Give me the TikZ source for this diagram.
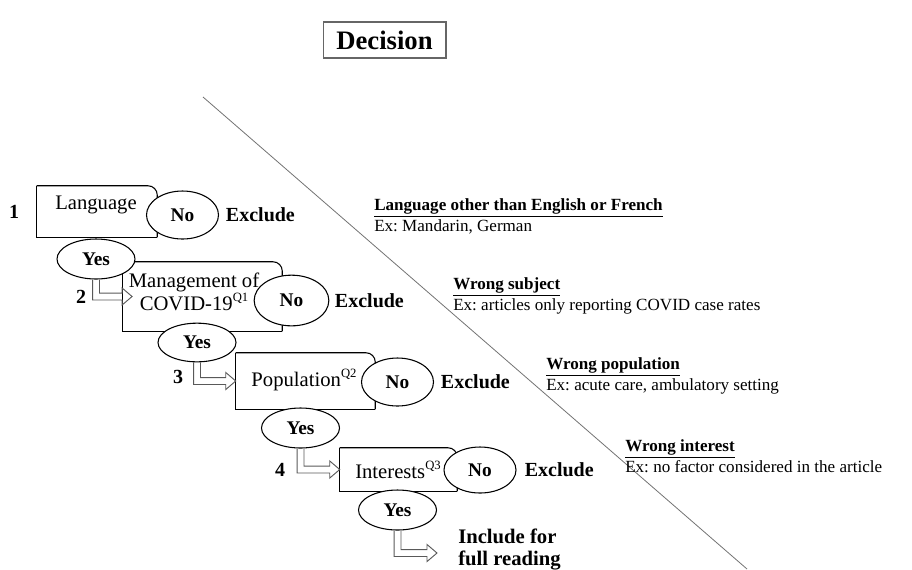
\documentclass[tikz,border=0pt]{standalone}
\usepackage{fontspec}
\setmainfont{Liberation Serif}
\usetikzlibrary{positioning,shapes.geometric,calc}
\frenchspacing

\newcommand{\qmark}[1]{\raisebox{0.42em}{\fontsize{9.5}{10}\selectfont #1}}
\newcommand{\qframe}[1]{%
  \draw[qline, rounded corners=7pt] (#1.south east) -- (#1.north east) -- (#1.north west);
  \draw[qline] (#1.north west) -- (#1.south west) -- (#1.south east);}
\newcommand{\yesarrow}[2]{%
  \draw[hollow] let \p1=(#1.south), \p2=(#2) in
    (\x1-2.6pt,\y1) -- (\x1-2.6pt,\y2-2.6pt) -- (\x2-7.5pt,\y2-2.6pt) -- (\x2-7.5pt,\y2-6.4pt)
    -- (\x2,\y2) -- (\x2-7.5pt,\y2+6.4pt) -- (\x2-7.5pt,\y2+2.6pt) -- (\x1+2.6pt,\y2+2.6pt) -- (\x1+2.6pt,\y1);}

\begin{document}
\begin{tikzpicture}[
x=0.75pt, y=-0.75pt,
qbox/.style={rectangle, inner sep=0pt},
qline/.style={line width=0.8pt, black},
qtext/.style={inner sep=0pt, align=center, font=\fontsize{15.5}{17.25}\selectfont},
yesnode/.style={ellipse, draw, fill=white, line width=0.8pt, inner sep=0pt, minimum width=58.5pt, minimum height=30pt, font=\fontsize{14.5}{16}\selectfont\bfseries},
nonode/.style={yesnode, minimum width=54pt, minimum height=36pt},
excl/.style={inner sep=0pt, font=\fontsize{15}{18}\selectfont\bfseries},
note/.style={inner sep=0pt, anchor=west, align=left, font=\fontsize{12.8}{15.75}\selectfont},
hollow/.style={draw=black!65, line width=0.7pt}
]
\useasboundingbox (0,0) rectangle (912,569);

\node[draw=black!60, line width=1pt, minimum width=92pt, minimum height=27pt, inner sep=0pt, font=\fontsize{20}{24}\selectfont\bfseries] (decision) at (384.5,40) {Decision};
\coordinate (diagtop) at (203,97);
\coordinate (diagend) at (747,569);
\draw[black!55, line width=0.6pt] (diagtop) -- (diagend);

\node[qbox, minimum width=90pt, minimum height=38.25pt] (lang) at (97,211.5) {};
\node[qbox, minimum width=119.25pt, minimum height=51.75pt] (cov) at (202.5,296.5) {};
\node[qbox, minimum width=104.25pt, minimum height=42pt] (pop) at (305.5,381) {};
\node[qbox, minimum width=87.75pt, minimum height=32.25pt] (intr) at (398.5,469.5) {};
\qframe{lang}
\qframe{cov}
\qframe{pop}
\qframe{intr}

\node[qtext] (langtxt) at (96,205) {Language};
\node[qtext] (covtxt) at (194,291.5) {Management of\\COVID-19\qmark{Q1}};
\node[qtext] (poptxt) at (304,380) {Population\qmark{Q2}};
\node[qtext] (inttxt) at (398,470) {Interests\qmark{Q3}};

\node[excl] (num1) at (14,212) {1};
\node[excl] (num2) at (81,297) {2};
\node[excl] (num3) at (178,377) {3};
\node[excl] (num4) at (280,470) {4};

\node[nonode] (no1) at (182.5,215) {No};
\node[nonode, minimum width=56pt, minimum height=38pt] (no2) at (291.5,300.5) {No};
\node[nonode] (no3) at (397.5,382) {No};
\node[nonode, minimum height=34.5pt] (no4) at (480,470) {No};
\node[excl, right=5pt of no1] (ex1) {Exclude};
\node[excl, right=4pt of no2] (ex2) {Exclude};
\node[excl, right=5pt of no3] (ex3) {Exclude};
\node[excl, right=6pt of no4] (ex4) {Exclude};

\node[yesnode] (yes1) at (96,259) {Yes};
\node[yesnode, minimum height=29pt] (yes2) at (197,342.5) {Yes};
\node[yesnode] (yes3) at (300.5,428) {Yes};
\node[yesnode] (yes4) at (397.5,510) {Yes};

\node[excl, anchor=west, align=left, font=\fontsize{15.5}{16.5}\selectfont\bfseries] (incl) at (458,549) {Include for\\full reading};
\coordinate (inclend) at (437,553);

\yesarrow{yes1}{[xshift=7pt]cov.west}
\yesarrow{yes2}{pop.west}
\yesarrow{yes3}{intr.west}
\yesarrow{yes4}{inclend}

\node[note] (note1) at (374,216.5) {\textbf{\underline{Language other than English or French}}\\Ex: Mandarin, German};
\node[note] (note2) at (453,296) {\textbf{\underline{Wrong subject}}\\Ex: articles only reporting COVID case rates};
\node[note] (note3) at (546,376) {\textbf{\underline{Wrong population}}\\Ex: acute care, ambulatory setting};
\node[note] (note4) at (625,456) {\textbf{\underline{Wrong interest}}\\Ex: no factor considered in the article};
\end{tikzpicture}
\end{document}
